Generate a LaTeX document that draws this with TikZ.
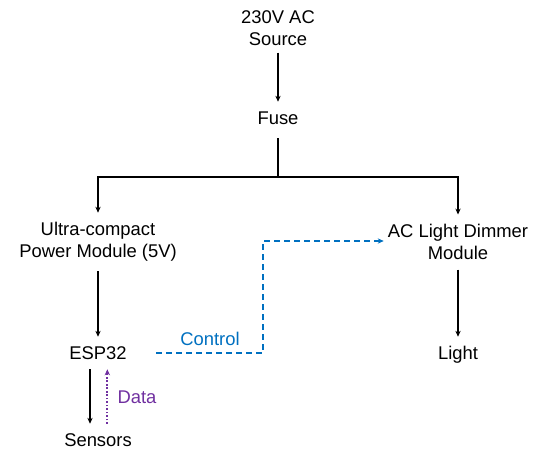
\documentclass[tikz,border=0pt]{standalone}
\usepackage{fontspec}
\setmainfont{Liberation Sans}
\usetikzlibrary{arrows.meta}

\definecolor{ctrlblue}{HTML}{0070C0}
\definecolor{datapurple}{HTML}{7030A0}

\tikzset{
  lbl/.style={align=center,inner xsep=3pt,inner ysep=7pt,
    font=\fontsize{13.8pt}{16.7pt}\selectfont},
  lbl1/.style={lbl,text height=10pt,text depth=0pt},
  flow/.style={line width=1pt,-{Stealth[length=4.5pt,width=4pt]}},
  ctrl/.style={ctrlblue,line width=1pt,dash pattern=on 4.5pt off 3pt,
    -{Stealth[length=4.5pt,width=4pt]}},
  dat/.style={datapurple,line width=1.4pt,dash pattern=on 1.3pt off 1.3pt,
    -{Stealth[length=4.5pt,width=4pt]}}
}

\begin{document}
\begin{tikzpicture}[x=0.75pt,y=-0.75pt]
  \useasboundingbox (0,0) rectangle (548,458);

  \coordinate (S) at (278,177);
  \coordinate (K) at (263,241);

  \node[lbl,inner ysep=5pt] (src) at (278,28) {230V AC\\Source};
  \node[lbl1] (fuse) at (278,118) {Fuse};
  \node[lbl] (pwr) at (98,242) {Ultra-compact\\Power Module (5V)};
  \node[lbl] (dim) at (458,242) {AC Light Dimmer\\Module};
  \node[lbl1] (esp) at (98,353) {ESP32};
  \node[lbl1] (light) at (458,353) {Light};
  \node[lbl1] (sens) at (98,440) {Sensors};

  \draw[flow] (src) -- (fuse);
  \draw[line width=1pt,shorten <=3pt] (fuse) -- (S);
  \draw[flow] (S) -| (pwr);
  \draw[flow] (S) -| (dim);
  \draw[flow] (pwr) -- (esp);
  \draw[flow] (dim) -- (light);

  \draw[ctrl,shorten <=19pt] (esp.east) -- (esp.east -| K) -- (K) -- (dim.west |- K);
  \node[lbl1,text=ctrlblue] (ctl) at (210,339) {Control};

  \draw[flow] ([xshift=-6pt]esp.south) -- ([xshift=-6pt]sens.north);
  \draw[dat] ([xshift=7pt]sens.north) -- ([xshift=7pt]esp.south);
  \node[lbl1,text=datapurple] (data) at (137,397) {Data};
\end{tikzpicture}
\end{document}
